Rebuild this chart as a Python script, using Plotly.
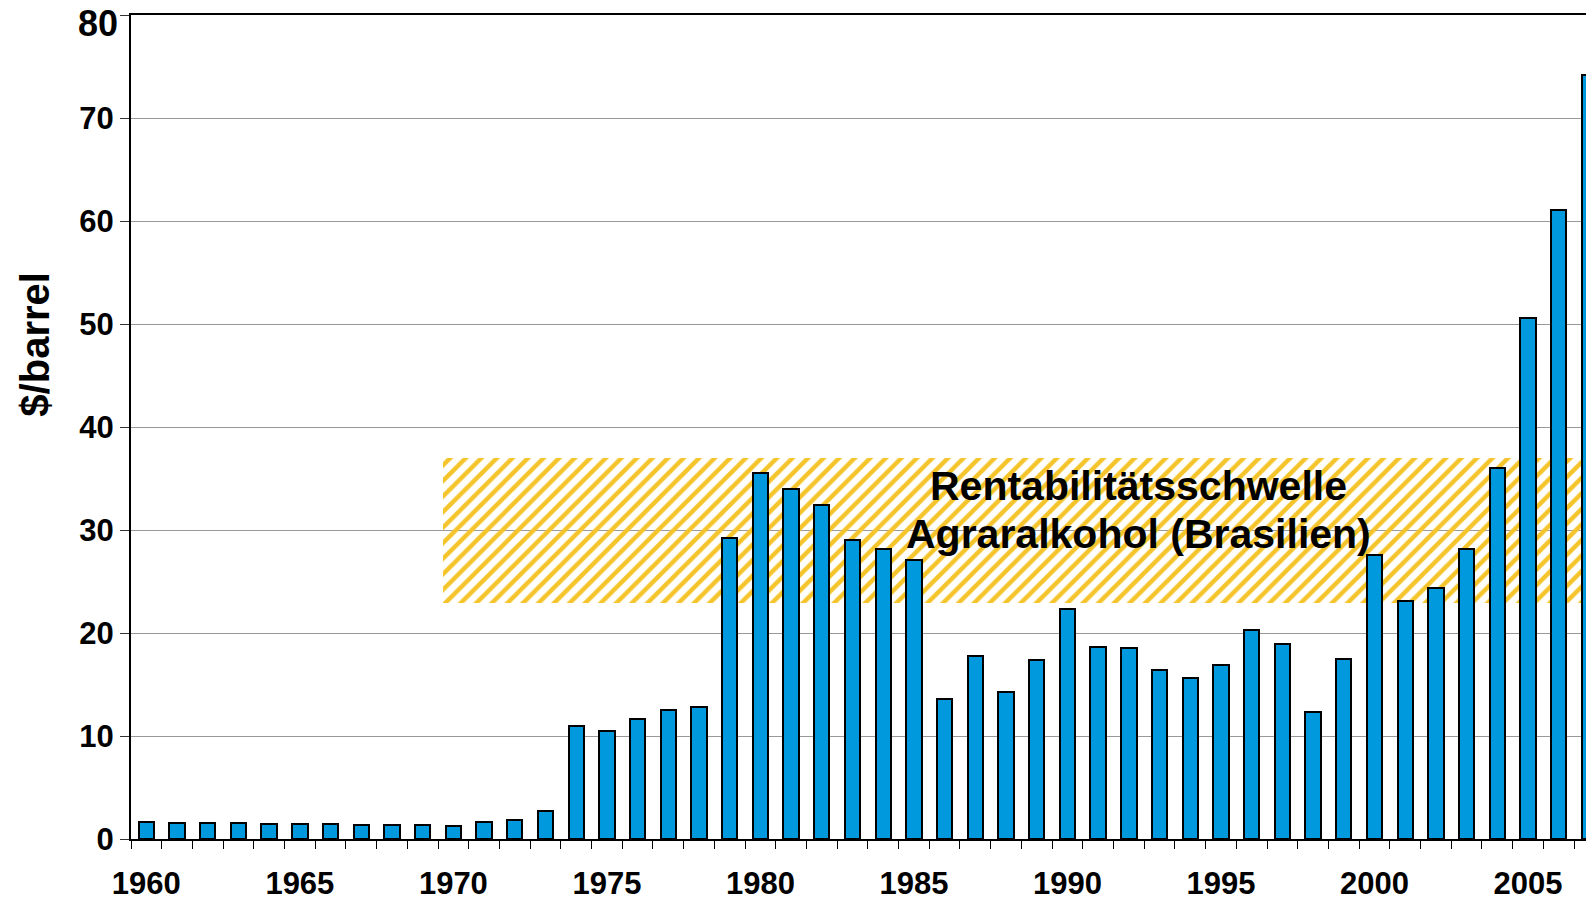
import plotly.graph_objects as go

# ---- data ----
years = list(range(1960, 2008))
prices = [1.65, 1.58, 1.55, 1.55, 1.49, 1.46, 1.42, 1.39, 1.39, 1.33, 1.29, 1.68, 1.81, 2.72,
          11.0, 10.49, 11.68, 12.52, 12.85, 29.22, 35.57, 34.0, 32.4, 29.06, 28.19, 27.05,
          13.56, 17.77, 14.27, 17.35, 22.3, 18.64, 18.51, 16.41, 15.6, 16.89, 20.32, 18.9, 12.3, 17.5,
          27.6, 23.1, 24.38, 28.13, 36.03, 50.63, 61.1, 74.17]
label_years = [1960, 1965, 1970, 1975, 1980, 1985, 1990, 1995, 2000, 2005]
y_ticks = [0, 10, 20, 30, 40, 50, 60, 70, 80]

band_start, band_end = 1969.66, 2008.0
band_low, band_high = 22.9, 37.0
band_lines = ["Rentabilitätsschwelle", "Agraralkohol (Brasilien)"]
band_label_x = 1992.3
band_label_y = [34.3, 29.6]

FONT = "Liberation Sans"
BAR_COLOR = "#0099DD"
GOLD = "#F5C42A"

fig = go.Figure()

# hatched band
fig.add_trace(go.Bar(
    x=[(band_start + band_end) / 2], y=[band_high - band_low], base=[band_low],
    width=[band_end - band_start],
    marker=dict(color="rgba(255,255,255,0)",
                pattern=dict(shape="/", fgcolor=GOLD, bgcolor="rgba(255,255,255,0)",
                             size=11, solidity=0.4, fillmode="replace"),
                line=dict(width=0)),
    hoverinfo="skip", showlegend=False,
))

# price bars
fig.add_trace(go.Bar(
    x=years, y=prices, width=0.5,
    marker=dict(color=BAR_COLOR, line=dict(color="black", width=2)),
    showlegend=False,
))

for txt, yy in zip(band_lines, band_label_y):
    fig.add_annotation(x=band_label_x, y=yy, xref="x", yref="y", text=f"<b>{txt}</b>",
                       showarrow=False, font=dict(family=FONT, size=41, color="black"))

fig.add_annotation(x=-0.0656, y=0.60, xref="paper", yref="paper", xanchor="center", yanchor="middle",
                   text="<b>$/barrel</b>", textangle=-90, showarrow=False,
                   font=dict(family=FONT, size=40, color="black"))

# top tick label (drawn larger and slightly lower in the reference)
fig.add_annotation(x=-0.0075, y=0.990, xref="paper", yref="paper", xanchor="right", yanchor="middle",
                   text=f"<b>{y_ticks[-1]}</b>", showarrow=False,
                   font=dict(family=FONT, size=36, color="black"))

y_ticktext = [f"<b>{v}</b>" for v in y_ticks]
y_ticktext[-1] = ""

fig.update_layout(
    width=1586, height=891,
    margin=dict(l=123, r=0, t=7, b=60, autoexpand=False),
    paper_bgcolor="white", plot_bgcolor="white",
    barmode="overlay",
    bargap=0,
    font=dict(family=FONT, color="black"),
    xaxis=dict(
        range=[1959.5, 2007.15], automargin=False,
        tickvals=label_years, ticktext=[f"<b>{y}</b>" for y in label_years],
        ticks="", ticklabelstandoff=16, ticklabeloverflow="allow",
        tickfont=dict(family=FONT, size=31, color="black"),
        showgrid=False, zeroline=False,
        showline=True, linecolor="black", linewidth=2, mirror=True,
        minor=dict(tickvals=[y - 0.5 for y in years] + [years[-1] + 0.5],
                   ticks="outside", ticklen=8, tickcolor="black", tickwidth=1, showgrid=False),
    ),
    yaxis=dict(
        range=[0, 80], tickvals=y_ticks, ticktext=y_ticktext, automargin=False,
        ticks="outside", ticklen=9, tickcolor="#333333", tickwidth=1,
        tickfont=dict(family=FONT, size=31, color="black"),
        ticklabelstandoff=0, ticklabeloverflow="allow",
        showgrid=True, gridcolor="#999999", gridwidth=1,
        zeroline=False,
        showline=True, linecolor="black", linewidth=2, mirror=False,
    ),
)

fig.write_html("out.html")
